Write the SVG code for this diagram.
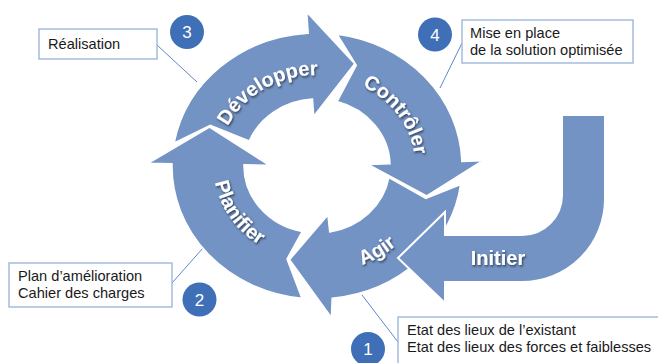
<svg xmlns="http://www.w3.org/2000/svg" xmlns:xlink="http://www.w3.org/1999/xlink" width="658" height="363" viewBox="0 0 658 363">
<defs>
<style>
.arrow{fill:#7393C4;stroke:#ffffff;stroke-width:1.5;stroke-linejoin:miter}
.lbl{font-family:"Liberation Sans",Arial,sans-serif;font-size:20px;font-weight:bold;fill:#ffffff}
.num{fill:#3F6FB6}
.numt{font-family:"Liberation Sans",Arial,sans-serif;font-size:17px;fill:#ffffff;text-anchor:middle}
.box{fill:#ffffff;stroke:#9FB7DD;stroke-width:1.4}
.bt{font-family:"Liberation Sans",Arial,sans-serif;font-size:14.6px;fill:#1a1a1a}
.conn{stroke:#5F88C6;stroke-width:1;fill:none}
</style>
<filter id="sh" x="-20%" y="-20%" width="140%" height="140%">
<feDropShadow dx="1" dy="1.5" stdDeviation="1" flood-color="#000000" flood-opacity="0.6"/>
</filter>
<path id="pDev" d="M218.66,154.12 A99.19,91 0 0 1 346.83,79.21"/>
<path id="pCon" d="M327.25,76.49 A98.1,90 0 0 1 411.30,190.81"/>
<path id="pPla" d="M218.52,136.64 A103.55,95 0 0 0 302.59,260.08"/>
<path id="pAgi" d="M284.70,269.34 A117.18,107.5 0 0 0 433.54,177.24"/>
</defs>

<g id="connectors">
<line class="conn" x1="157" y1="45" x2="197" y2="82"/>
<line class="conn" x1="462" y1="43" x2="440" y2="88"/>
<line class="conn" x1="172" y1="283" x2="203" y2="248"/>
<line class="conn" x1="362" y1="295" x2="398" y2="342"/>
</g>

<g id="planifier">
<path class="arrow" d="M301.9,298.3 A144.97,133 0 0 1 172.0,163.7 L148.1,163.3 L209.5,127.2 L269.0,165.2 L244.0,164.8 A73.03,67 0 0 0 302.1,231.6 L287.0,259.0 Z"/>
<text class="lbl" filter="url(#sh)"><textPath xlink:href="#pPla" href="#pPla" startOffset="50%" text-anchor="middle">Planifier</textPath></text>
</g>

<g id="developper">
<path class="arrow" d="M174.2,142.9 A144.97,133 0 0 1 308.2,33.2 L306.8,12.3 L354.7,63.7 L313.7,116.1 L312.5,99.1 A73.03,67 0 0 0 249.3,140.9 L210.3,125.4 Z"/>
<text class="lbl" filter="url(#sh)"><textPath xlink:href="#pDev" href="#pDev" startOffset="50%" text-anchor="middle">Développer</textPath></text>
</g>

<g id="controler">
<path class="arrow" d="M337.2,34.3 A144.97,133 0 0 1 461.9,161.4 L482.6,160.7 L426.7,195.8 L368.2,164.4 L390.0,163.7 A73.03,67 0 0 0 337.1,101.6 L356.3,65.3 Z"/>
<text class="lbl" filter="url(#sh)"><textPath xlink:href="#pCon" href="#pCon" startOffset="50%" text-anchor="middle">Contrôler</textPath></text>
</g>

<g id="agir">
<path class="arrow" d="M460.6,184.5 A144.97,133 0 0 1 332.2,298.3 L331.4,317.4 L289.6,259.7 L327.9,215.0 L329.7,232.0 A73.03,67 0 0 0 388.9,177.6 L425.9,198.4 Z"/>
<text class="lbl" filter="url(#sh)"><textPath xlink:href="#pAgi" href="#pAgi" startOffset="50%" text-anchor="middle">Agir</textPath></text>
</g>

<g id="initier">
<path class="arrow" style="stroke-width:2" d="M398,258 L445,212 L445,235 L522,235 A40,40 0 0 0 562,195 L562,115 L605,115 L605,199 A83,83 0 0 1 522,282 L445,282 L445,303 Z"/>
<text class="lbl" filter="url(#sh)" x="498" y="264.5" text-anchor="middle">Initier</text>
</g>

<g id="badge3">
<circle class="num" cx="187" cy="32" r="17"/>
<text class="numt" x="187" y="38">3</text>
</g>
<g id="badge4">
<circle class="num" cx="435" cy="34.5" r="17"/>
<text class="numt" x="435" y="40.5">4</text>
</g>
<g id="badge2">
<circle class="num" cx="199.5" cy="299.5" r="17"/>
<text class="numt" x="199.5" y="305.5">2</text>
</g>
<g id="badge1">
<circle class="num" cx="368" cy="349" r="17"/>
<text class="numt" x="368" y="355">1</text>
</g>

<g id="box-realisation">
<rect class="box" x="39" y="29" width="118" height="30"/>
<text class="bt" x="48" y="48.5">Réalisation</text>
</g>
<g id="box-mise">
<rect class="box" x="462" y="20" width="171" height="43"/>
<text class="bt" x="470" y="37.5">Mise en place</text>
<text class="bt" x="470" y="55">de la solution optimisée</text>
</g>
<g id="box-plan">
<rect class="box" x="9" y="263" width="163" height="44"/>
<text class="bt" x="18" y="280.5">Plan d’amélioration</text>
<text class="bt" x="18" y="297.5">Cahier des charges</text>
</g>
<g id="box-etat">
<rect class="box" x="398" y="317" width="264" height="52"/>
<text class="bt" x="407" y="335">Etat des lieux de l’existant</text>
<text class="bt" x="407" y="352">Etat des lieux des forces et faiblesses</text>
</g>
</svg>
